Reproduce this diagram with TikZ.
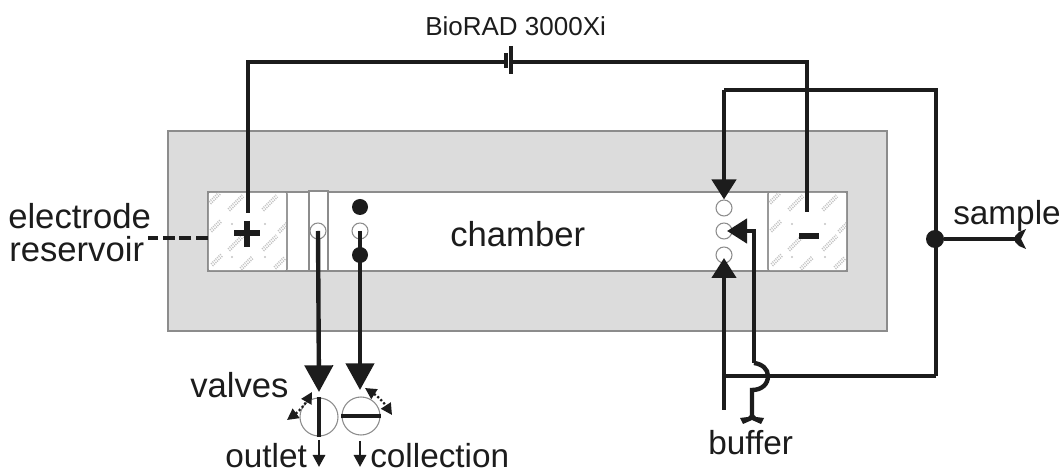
\documentclass[tikz,border=0pt]{standalone}
\usepackage{fontspec}
\setmainfont{Liberation Sans}
\usetikzlibrary{arrows.meta,calc}
\definecolor{panel}{HTML}{DCDCDC}
\definecolor{edge}{HTML}{8C8C8C}
\definecolor{ink}{HTML}{1C1C1C}
\definecolor{hatchc}{HTML}{C4C4C4}
\tikzset{
  wire/.style={draw=ink,line width=3.3pt},
  toprun/.style={draw=ink,line width=2.8pt},
  bigtip/.style={-{Triangle[length=15pt,width=18pt,fill=ink]}},
  hugetip/.style={-{Triangle[length=20pt,width=21pt,fill=ink]}},
  port/.style={circle,draw=edge,line width=.8pt,fill=white,minimum size=12pt,inner sep=0pt},
  dot/.style={circle,fill=ink,minimum size=12pt,inner sep=0pt},
  box/.style={draw=edge,line width=.8pt,fill=white},
  lab/.style={inner sep=0pt,anchor=base west,text=ink,font=\fontsize{25}{25}\selectfont},
  valve/.style={circle,draw=edge,line width=.8pt,fill=white,minimum size=28.5pt,inner sep=0pt},
  dottip/.style={dash pattern=on 1.6pt off 1.6pt,draw=ink,line width=1.7pt,{Triangle[length=8.5pt,width=8.5pt,fill=ink,sep=0pt]}-{Triangle[length=8.5pt,width=8.5pt,fill=ink,sep=0pt]}},
  hmark/.style={draw=hatchc,line width=1.1pt,dash pattern=on .8pt off .8pt},
}
\newcommand{\hatchbox}[2]{%
  \begin{scope}[shift={(#1,#2)}]
    \clip (0,0) rectangle (79,79);
    \foreach \a/\b/\l in {6/6/5,27/11/7,61/11/7,7/34/5,27/51/7,61/51/7,75/35/5,8/68/5,38/71/6,71/71/5}{
      \draw[hmark] (\a-\l,\b+\l-1) -- (\a+\l,\b-\l-1);
      \draw[hmark] (\a-\l+1.5,\b+\l+1) -- (\a+\l+1.5,\b-\l+1);
    }
    \foreach \a in {24,57}{\foreach \b in {32,65}{\fill[hatchc] (\a,\b) circle (.8pt);}}
  \end{scope}}
\begin{document}
\begin{tikzpicture}[x=.75pt,y=-.75pt]
\useasboundingbox (0,0) rectangle (1064,473);
\fill[white] (0,0) rectangle (1064,473);
% panel and chamber
\draw[draw=edge,line width=.8pt,fill=panel] (168,131) rectangle (887,331);
\draw[box] (208,192) rectangle (847,271);
\draw[box,rounded corners=1.5pt] (208,192) rectangle (287,271);
\hatchbox{208}{192}
\draw[edge,line width=.8pt,rounded corners=1.5pt] (208,192) rectangle (287,271);
\draw[box,rounded corners=1.5pt] (768,192) rectangle (847,271);
\hatchbox{768}{192}
\draw[edge,line width=.8pt,rounded corners=1.5pt] (768,192) rectangle (847,271);
\draw[box] (309,191) rectangle (328,271);
% ports
\node[port] (pL) at (318,231) {};
\node[dot]  (dA) at (360,207) {};
\node[port] (pC) at (360,231) {};
\node[dot]  (dB) at (360,255) {};
\node[port] (pT) at (724,208) {};
\node[port] (pM) at (724,231) {};
\node[port] (pB) at (724,255) {};
% valves
\node[valve] (vL) at (319,417) {};
\node[valve] (vR) at (361,416) {};
\draw[ink,line width=3.3pt] (vL.north) -- (vL.south);
\draw[ink,line width=3.3pt] (vR.west) -- (vR.east);
% electrodes
\coordinate (plusN) at (248,213);
\coordinate (minusN) at (807,212);
\draw[ink,line width=3.8pt] (234,233) -- (260,233) (247,221) -- (247,247);
\fill[ink] (799,233) rectangle (819,239);
% battery and power wiring
\coordinate (pwrL) at (248,62);
\coordinate (pwrR) at (807,62);
\coordinate (batA) at (506,62);
\coordinate (batB) at (511,62);
\draw[toprun] (plusN) -- (pwrL) -- (batA);
\draw[toprun] (batB) -- (pwrR) -- (minusN);
\draw[ink,line width=2.6pt] (506,53) -- (506,68);
\draw[ink,line width=2.6pt] (511,46) -- (511,74);
% sample wiring
\node[dot,minimum size=13.5pt] (junction) at (935,239) {};
\coordinate (sTopR) at (936,90);
\coordinate (sTopL) at (724,90);
\coordinate (sBot) at (936,376);
\coordinate (sIn) at (724,376);
\coordinate (bufEnd) at (724,410);
\draw[wire] (sBot) -- (sTopR) -- (sTopL);
\draw[wire,bigtip] (sTopL) -- (pT.north);
\coordinate (pBtip) at (724,258);
\draw[wire,bigtip] (bufEnd) -- (pBtip);
\draw[wire] (sBot) -- (sIn);
% buffer line with jump
\coordinate (pMtip) at (727,231);
\coordinate (mBend) at (754,231);
\coordinate (jTop) at (754,363);
\coordinate (jBot) at (752,390);
\coordinate (bufTail) at (752,415);
\draw[wire,bigtip] (jTop) -- (mBend) -- (pMtip);
\draw[wire] (jTop) .. controls (762,364) and (768,369) .. (768,376) .. controls (768,384) and (762,390) .. (jBot) -- (bufTail);
\fill[ink] (752,413) -- (756,417) -- (764,418) -- (761,424) -- (752,420) -- (743,424) -- (740,418) -- (748,417) -- cycle;
% sample tail
\coordinate (sampEnd) at (1018,239);
\draw[wire] (junction) -- (sampEnd);
\fill[ink] (1015,236) -- (1019,232) -- (1026,229) -- (1021,239) -- (1026,249) -- (1019,246) -- (1015,242) -- cycle;
% valve arrows
\coordinate (vLin) at (319,392);
\coordinate (vRin) at (360,390);
\draw[wire,hugetip] (pL.center) -- (vLin);
\draw[wire,hugetip] (pC.center) -- (vRin);
% dotted turn arrows
\coordinate (tLa) at (287,420);
\coordinate (tLb) at (312,392);
\coordinate (tRa) at (365,388);
\coordinate (tRb) at (392,415);
\draw[dottip] (tLa) to[bend right=12] (tLb);
\draw[dottip] (tRa) to[bend left=12] (tRb);
% outlet arrows
\coordinate (oA) at (319,440);
\coordinate (oB) at (319,467);
\coordinate (cA) at (360,441);
\coordinate (cB) at (360,467);
\draw[ink,line width=2.2pt,-{Triangle[length=9pt,width=9pt,fill=ink]}] (oA) -- (oB);
\draw[ink,line width=2.2pt,-{Triangle[length=9pt,width=9pt,fill=ink]}] (cA) -- (cB);
% reservoir lead
\coordinate (resA) at (148,238);
\coordinate (resB) at (208,238);
\draw[ink,line width=3pt,dash pattern=on 9pt off 3.5pt] (resB) -- (resA);
% labels
\node[lab,font=\fontsize{19.5}{20}\selectfont] (tBat) at (425,36) {BioRAD 3000Xi};
\node[lab,font=\fontsize{26}{26}\selectfont] (tEl) at (8,229) {electrode};
\node[lab,font=\fontsize{26}{26}\selectfont] (tRe) at (9,262) {reservoir};
\node[lab,font=\fontsize{26}{26}\selectfont] (tCh) at (450,247) {chamber};
\node[lab,font=\fontsize{26}{26}\selectfont] (tVa) at (190,398) {valves};
\node[lab] (tOu) at (225,468) {outlet};
\node[lab] (tCo) at (370,468) {collection};
\node[lab] (tBu) at (708,455) {buffer};
\node[lab] (tSa) at (953,225) {sample};
\end{tikzpicture}
\end{document}
